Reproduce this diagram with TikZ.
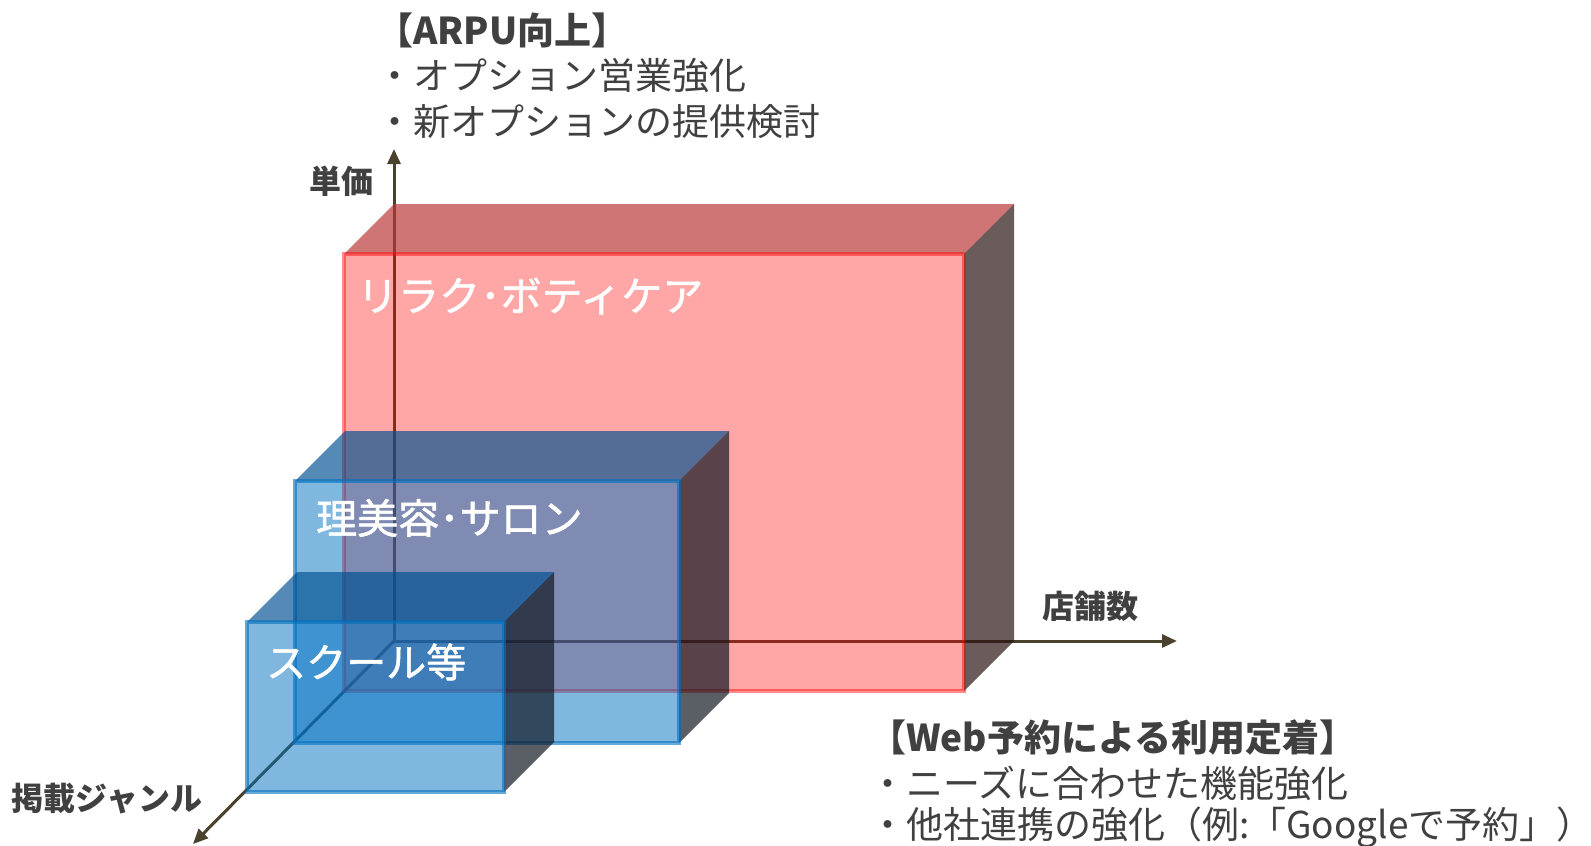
\documentclass[tikz,border=0pt]{standalone}
\usepackage{fontspec}
\setmainfont{Noto Sans CJK JP}
\newfontfamily\boxlabelfont[FakeBold=1.3]{Noto Sans CJK JP}
\usetikzlibrary{arrows.meta}
\definecolor{axiscol}{RGB}{74,66,44}
\definecolor{txtcol}{RGB}{64,64,64}
\definecolor{redf}{RGB}{255,0,0}
\definecolor{redtop}{RGB}{187,55,55}
\definecolor{redside}{RGB}{41,17,17}
\definecolor{bluef}{RGB}{0,112,192}
\definecolor{bluetop}{RGB}{0,81,145}
\definecolor{blueside}{RGB}{16,23,33}
\newcommand\cuboid[8]{%
  \path[#5] (#1,#2) -- ++(50,-50) -- ({#3+50},{#2-50}) -- (#3,#2) -- cycle;
  \path[#6] (#3,#2) -- ++(50,-50) -- ({#3+50},{#4-50}) -- (#3,#4) -- cycle;
  \path[#7] (#1,#2) rectangle (#3,#4);
  \path[#8] (#1,#2) rectangle (#3,#4);
}
\tikzset{
  axisline/.style={draw=axiscol, line width=3pt, -{Triangle[length=15pt,width=13pt]}},
  rtop/.style={fill=redtop, fill opacity=0.69},
  rside/.style={fill=redside, fill opacity=0.69},
  rfront/.style={fill=redf, fill opacity=0.35},
  rborder/.style={draw=redf, draw opacity=0.45, line width=4.5pt},
  btop/.style={fill=bluetop, fill opacity=0.67},
  bside/.style={fill=blueside, fill opacity=0.69},
  bfront/.style={fill=bluef, fill opacity=0.5},
  bborder/.style={draw=bluef, draw opacity=0.6, line width=4.5pt},
  headtxt/.style={anchor=west, inner sep=0pt, text=txtcol, font=\fontsize{37}{44}\selectfont},
  axtxt/.style={inner sep=0pt, text=txtcol, font=\fontsize{32}{38}\selectfont\bfseries},
  boxtxt/.style={anchor=west, inner sep=0pt, text=white, font=\boxlabelfont\fontsize{41}{48}\selectfont},
}
\begin{document}
\begin{tikzpicture}[x=1pt,y=-1pt]
\useasboundingbox (0,0) rectangle (1591,846);
% axes
\coordinate (O) at (394,641);
\coordinate (V) at (394,149);
\coordinate (H) at (1177,641);
\coordinate (D) at (193,844);
\draw[axisline] (O) -- (V);
\draw[axisline] (O) -- (H);
\draw[axisline] (O) -- (D);
% boxes
\cuboid{344}{254}{964}{691}{rtop}{rside}{rfront}{rborder}
\cuboid{295}{481}{679}{743}{btop}{bside}{bfront}{bborder}
\cuboid{247}{622}{504}{792}{btop}{bside}{bfront}{bborder}
% box labels
\node[boxtxt] (lbr) at (357,296) {リラク･ボティケア};
\node[boxtxt] (lbm) at (316,518) {理美容･サロン};
\node[boxtxt, font=\boxlabelfont\fontsize{40}{48}\selectfont] (lbs) at (266,662) {スクール等};
% axis labels
\node[axtxt] (ly) at (341,181) {単価};
\node[axtxt] (lx) at (1090,606) {店舗数};
\node[axtxt] (lz) at (107,799) {掲載ジャンル};
% upper text
\node[headtxt] (u1) at (376,30) {\bfseries【ARPU向上】};
\node[headtxt] (u2) at (376,76) {・オプション営業強化};
\node[headtxt] (u3) at (376,122) {・新オプションの提供検討};
% lower text
\node[headtxt] (w1) at (869,738) {\bfseries【Web予約による利用定着】};
\node[headtxt] (w2) at (869,783) {・ニーズに合わせた機能強化};
\node[headtxt] (w3) at (869,827) {・他社連携の強化（例:「Googleで予約」）};
\end{tikzpicture}
\end{document}
